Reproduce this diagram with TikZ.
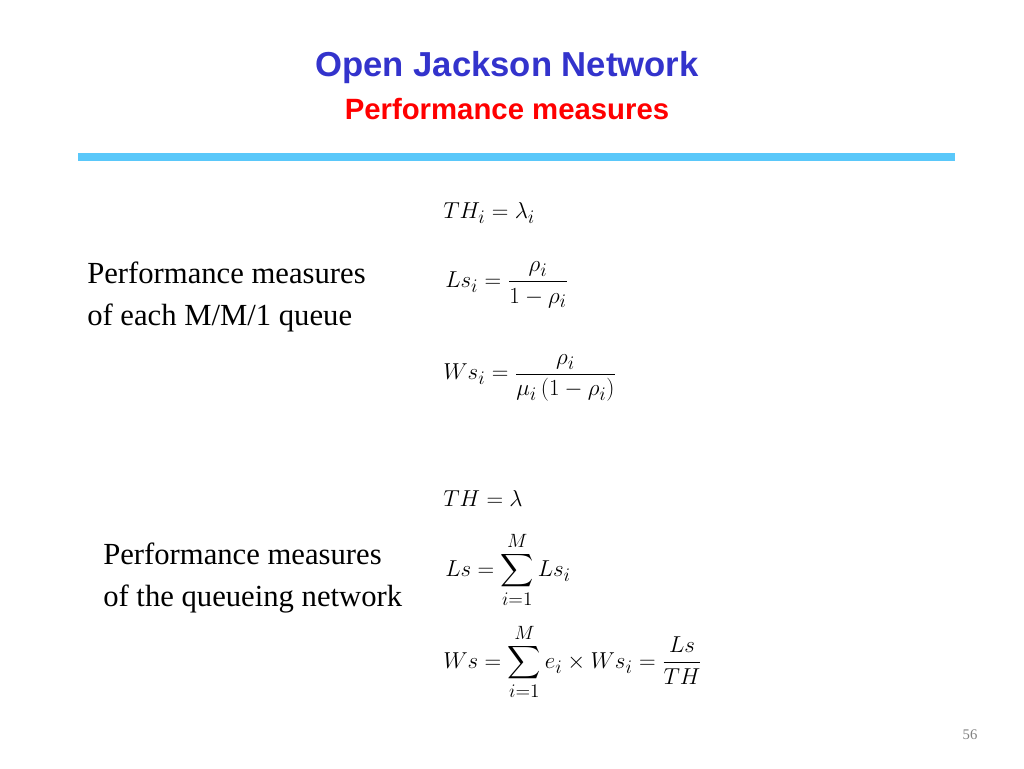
\documentclass[tikz,border=0pt]{standalone}
\usepackage{amsmath}
\usepackage{fontspec}
\setmainfont{Liberation Serif}
\newfontfamily\titlefont{Liberation Sans}
\begin{document}
\begin{tikzpicture}[x=0.75pt,y=-0.75pt,
  txt/.style={anchor=west,align=left,font=\fontsize{23}{31}\selectfont,inner sep=0},
  eq/.style={anchor=west,inner sep=0,font=\fontsize{19}{23}\selectfont}]
\useasboundingbox (0,0) rectangle (1024,768);
\node[font=\titlefont\bfseries\fontsize{26}{30}\selectfont,text={rgb,255:red,51;green,51;blue,204}] (t1) at (507,68) {Open Jackson Network};
\node[font=\titlefont\bfseries\fontsize{22}{26}\selectfont,text=red] (t2) at (507,109) {Performance measures};
\draw[line width=6pt,color={rgb,255:red,90;green,200;blue,250}] (78,157) -- (955,157);
\node[txt] (d1) at (87,297) {Performance measures\\of each M/M/1 queue};
\node[txt] (d2) at (103,578) {Performance measures\\of the queueing network};
\node[eq] (e1) at (443,213) {$TH_i=\lambda_i$};
\node[eq] (e2) at (445,285) {$Ls_i=\dfrac{\rho_i}{1-\rho_i}$};
\node[eq] (e3) at (443,378) {$Ws_i=\dfrac{\rho_i}{\mu_i\,(1-\rho_i)}$};
\node[eq] (e4) at (443,498) {$TH=\lambda$};
\node[eq] (e5) at (445,570) {$Ls=\displaystyle\sum_{i=1}^{M}Ls_i$};
\node[eq] (e6) at (443,662) {$Ws=\displaystyle\sum_{i=1}^{M}e_i\times Ws_i=\dfrac{Ls}{TH}$};
\node[font=\fontsize{11}{13}\selectfont,text=gray] (pg) at (970,735) {56};
\end{tikzpicture}
\end{document}
